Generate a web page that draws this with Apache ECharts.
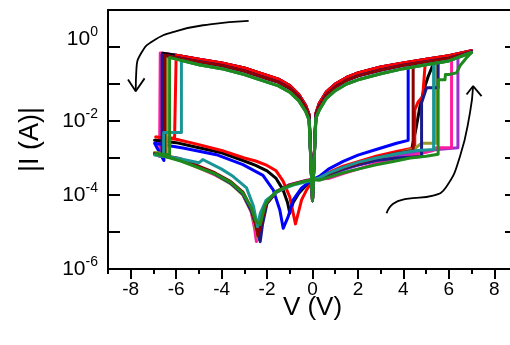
<!DOCTYPE html>
<html>
<head>
<meta charset="utf-8">
<script src="https://cdn.jsdelivr.net/npm/echarts@6/dist/echarts.min.js"></script>
<style>
html,body{margin:0;padding:0;background:#fff;overflow:hidden;width:510px;height:345px;}
#chart{width:517px;height:345px;}
</style>
</head>
<body>
<div id="chart"></div>
<script>
// ---- axis ticks ----
const xMajorTicks = [-8, -6, -4, -2, 0, 2, 4, 6, 8];
const xMinorTicks = [-9, -7, -5, -3, -1, 1, 3, 5, 7, 9];
const yTicks = [1e-6, 1e-5, 1e-4, 1e-3, 1e-2, 1e-1, 1, 10];
const yLabelTicks = [1e-6, 1e-4, 1e-2, 1];

// ---- ON-state branches, [V, |I| (A)] ----
const hiPosU = [[7,0.79],[6,0.58],[5,0.47],[4,0.37],[3,0.29],[2,0.20],[1.5,0.15],[1,0.10],[0.6,0.060],[0.3,0.030],[0.15,0.016]];
const hiPosM = [[7,0.74],[6,0.50],[5,0.40],[4,0.32],[3,0.24],[2,0.166],[1.5,0.126],[1,0.083],[0.6,0.050],[0.3,0.025],[0.15,0.014]];
const hiPosL = [[7,0.71],[6,0.42],[5,0.33],[4,0.26],[3,0.19],[2,0.13],[1.5,0.10],[1,0.066],[0.6,0.040],[0.3,0.020],[0.15,0.012]];
const hiNegU = [[-0.15,0.015],[-0.3,0.026],[-0.6,0.052],[-1,0.091],[-1.5,0.135],[-2,0.17],[-3,0.27],[-4,0.37],[-5,0.47],[-6,0.60],[-6.7,0.69]];
const hiNegM = [[-0.15,0.0126],[-0.3,0.022],[-0.6,0.045],[-1,0.076],[-1.5,0.112],[-2,0.141],[-3,0.224],[-4,0.316],[-5,0.40],[-6,0.52],[-6.7,0.63]];
const hiNegL = [[-0.15,0.0105],[-0.3,0.018],[-0.6,0.035],[-1,0.060],[-1.5,0.089],[-2,0.112],[-3,0.18],[-4,0.26],[-5,0.33],[-6,0.47],[-6.7,0.60]];
const spike = [0, 7e-5];

// ---- OFF-state positive sweeps up to SET, per cycle ----
const setBlack   = [[0,2.6e-4],[0.3,2.9e-4],[0.7,3.8e-4],[1.35,5.6e-4],[2,7.6e-4],[2.8,1.05e-3],[3.7,1.4e-3],[4.36,1.66e-3],[4.55,6.0e-3],[4.73,0.025],[4.9,0.07],[5.09,0.16],[5.31,0.34],[5.45,0.45]];
const setRed     = [[0,2.6e-4],[0.3,3.0e-4],[0.7,4.0e-4],[1.35,6.0e-4],[2,7.9e-4],[2.8,1.12e-3],[3.7,1.5e-3],[4.5,1.9e-3],[4.5,0.02],[4.64,0.032],[4.85,0.046],[4.95,0.30],[5.0,0.47]];
const setBlue    = [[0,2.6e-4],[0.3,3.2e-4],[0.7,5.0e-4],[1.35,8.1e-4],[2,1.2e-3],[2.8,1.7e-3],[3.7,2.5e-3],[4.21,3.0e-3],[4.21,0.33]];
const setMagenta = [[0,2.6e-4],[0.3,2.7e-4],[0.7,2.8e-4],[1.35,3.8e-4],[2,5.0e-4],[2.8,7.1e-4],[3.7,9.5e-4],[4.5,1.2e-3],[5.3,1.6e-3],[5.45,1.9e-3],[6.12,1.9e-3],[6.12,0.60]];
const setOlive   = [[0,2.6e-4],[0.3,2.8e-4],[0.7,3.6e-4],[1.35,5.2e-4],[2,7.0e-4],[2.8,9.5e-4],[3.7,1.3e-3],[4.5,1.8e-3],[4.8,2.5e-3],[5.46,2.5e-3],[5.46,0.37]];
const setNavy    = [[0,2.6e-4],[0.3,2.9e-4],[0.7,3.5e-4],[1.35,5.0e-4],[2,6.6e-4],[2.8,8.5e-4],[3.7,1.0e-3],[4.8,1.1e-3],[4.8,0.031],[5.02,0.079],[5.53,0.079],[5.53,0.45]];
const setWine    = [[0,2.6e-4],[0.3,2.9e-4],[0.7,3.7e-4],[1.35,5.4e-4],[2,7.2e-4],[2.8,1.0e-3],[3.7,1.35e-3],[4.43,1.6e-3],[4.43,0.35]];
const setPurple  = [[0,2.6e-4],[0.3,2.8e-4],[0.7,3.4e-4],[1.35,4.8e-4],[2,6.3e-4],[2.8,8.5e-4],[3.7,1.1e-3],[4.6,1.4e-3],[5.5,1.7e-3],[6.4,1.9e-3],[6.4,0.66]];
const setTeal    = [[0,2.6e-4],[0.3,2.9e-4],[0.7,3.9e-4],[1.35,5.6e-4],[2,7.6e-4],[2.8,1.0e-3],[3.7,1.3e-3],[4.6,1.6e-3],[5.33,1.7e-3],[5.33,0.36]];
const setGreen   = [[0,2.6e-4],[0.3,2.5e-4],[0.7,3.0e-4],[1.35,4.0e-4],[2,5.0e-4],[2.8,6.6e-4],[3.5,7.9e-4],[4.3,1.0e-3],[5.0,1.12e-3],[5.53,1.26e-3],[5.53,0.13],[5.83,0.13],[5.85,0.18],[6.0,0.18],[6.34,0.20],[6.49,0.31],[6.78,0.51],[7,0.71]];

// ---- RESET and OFF-state negative return sweeps, per cycle ----
const resetBlack   = [[-6.6,0.68],[-6.6,2.9e-3],[-6.95,3.0e-3],[-6,2.6e-3],[-5,1.9e-3],[-4,1.38e-3],[-3,8.3e-4],[-2.5,6.3e-4],[-2,4.5e-4],[-1.6,2.8e-4],[-1.3,1.4e-4],[-1.1,6.3e-5],[-1.0,3.2e-5],[-0.85,6.3e-5],[-0.6,1.12e-4],[-0.3,1.78e-4],[0,2.4e-4]];
const resetRed     = [[-6.07,0.60],[-6.07,3.4e-3],[-6.9,3.7e-3],[-6,3.2e-3],[-5,2.3e-3],[-4,1.6e-3],[-3,1.0e-3],[-2.5,8.3e-4],[-2,6.3e-4],[-1.6,4.5e-4],[-1.3,2.4e-4],[-1.0,8.9e-5],[-0.85,3.2e-5],[-0.75,1.66e-5],[-0.63,3.2e-5],[-0.48,7.4e-5],[-0.26,1.38e-4],[0,2.4e-4]];
const resetBlue    = [[-6.54,0.60],[-6.54,8.5e-4],[-6.95,2.5e-3],[-5.7,1.86e-3],[-4.23,1.23e-3],[-3.06,6.6e-4],[-2.18,3.4e-4],[-1.73,1.38e-4],[-1.44,4.0e-5],[-1.29,1.26e-5],[-1.07,2.6e-5],[-0.85,7.4e-5],[-0.48,1.55e-4],[-0.12,2.3e-4],[0,2.5e-4]];
const resetMagenta = [[-6.73,0.69],[-6.73,1.1e-3],[-6.95,1.3e-3],[-5.8,8.9e-4],[-4.3,3.5e-4],[-3.6,2.1e-4],[-3.06,1.0e-4],[-2.7,3.5e-5],[-2.55,1.26e-5],[-2.47,5.5e-6],[-2.3,1.8e-5],[-2.03,6.0e-5],[-1.59,1.26e-4],[-1.0,1.9e-4],[-0.26,2.5e-4],[0,2.6e-4]];
const resetOlive   = [[-6.43,0.55],[-6.43,1.3e-3],[-6.95,1.4e-3],[-5.8,8.5e-4],[-4.3,3.6e-4],[-3.6,2.0e-4],[-3.06,1.0e-4],[-2.7,3.8e-5],[-2.5,1.3e-5],[-2.38,6.3e-6],[-2.25,1.6e-5],[-2.03,5.6e-5],[-1.59,1.2e-4],[-1.0,1.8e-4],[-0.3,2.4e-4],[0,2.6e-4]];
const resetNavy    = [[-6.62,0.62],[-6.62,1.2e-3],[-6.95,1.3e-3],[-5.8,9.0e-4],[-4.3,3.7e-4],[-3.6,2.1e-4],[-3.06,1.05e-4],[-2.7,3.8e-5],[-2.45,1.3e-5],[-2.3,5.5e-6],[-2.2,1.6e-5],[-2.0,6.0e-5],[-1.59,1.2e-4],[-1.0,1.85e-4],[-0.3,2.4e-4],[0,2.6e-4]];
const resetWine    = [[-6.5,0.60],[-6.5,1.2e-3],[-6.95,1.3e-3],[-5.8,9.5e-4],[-4.3,4.0e-4],[-3.6,2.3e-4],[-3.06,1.2e-4],[-2.7,4.5e-5],[-2.5,1.6e-5],[-2.4,8.0e-6],[-2.25,1.8e-5],[-2.03,6.0e-5],[-1.59,1.2e-4],[-1.0,1.85e-4],[-0.3,2.4e-4],[0,2.6e-4]];
const resetPurple  = [[-6.6,0.68],[-6.6,1.2e-3],[-6.95,1.3e-3],[-5.8,9.0e-4],[-4.3,3.8e-4],[-3.6,2.2e-4],[-3.06,1.1e-4],[-2.7,4.0e-5],[-2.5,1.4e-5],[-2.42,7.0e-6],[-2.28,1.8e-5],[-2.03,6.0e-5],[-1.59,1.25e-4],[-1.0,1.9e-4],[-0.3,2.45e-4],[0,2.6e-4]];
const resetTeal    = [[-5.77,0.43],[-5.77,4.9e-3],[-6.55,4.9e-3],[-6.55,1.1e-3],[-6.95,1.2e-3],[-6,1.0e-3],[-5.0,7.4e-4],[-4.83,9.1e-4],[-4.0,5.0e-4],[-3.5,3.2e-4],[-2.9,1.55e-4],[-2.6,5.0e-5],[-2.42,1.4e-5],[-2.3,3.2e-5],[-2.05,7.1e-5],[-1.5,1.3e-4],[-0.8,1.9e-4],[0,2.5e-4]];
const resetGreen   = [[-6.29,0.52],[-6.29,1.23e-3],[-6.9,1.3e-3],[-5.8,8.3e-4],[-4.3,3.8e-4],[-3.6,2.2e-4],[-3.06,1.12e-4],[-2.7,4.5e-5],[-2.5,2.0e-5],[-2.3,1.6e-5],[-2.1,5.0e-5],[-2.0,6.6e-5],[-1.6,1.26e-4],[-1.0,1.8e-4],[-0.3,2.4e-4],[0,2.6e-4]];

// ---- annotation arrows (data coordinates) ----
const arrowResetPath = [[-2.81,5.1],[-4.52,4.1],[-5.99,2.7],[-7.02,1.46],[-7.53,0.70],[-7.75,0.25],[-7.78,0.064]];
const arrowResetHead = [[-8.12,0.133],[-7.78,0.064],[-7.39,0.142]];
const arrowSetPath = [[3.26,3.2e-5],[3.55,5.8e-5],[4.14,7.8e-5],[5.31,9.6e-5],[5.90,1.7e-4],[6.49,1.1e-3],[6.93,0.0166],[7.07,0.088]];
const arrowSetHead = [[6.78,0.052],[7.07,0.088],[7.44,0.047]];

const cycles = [
  {color:'#9b30d0', set:setPurple,  hiPos:hiPosU, hiNeg:hiNegU, reset:resetPurple},
  {color:'#ff1ea0', set:setMagenta, hiPos:hiPosU, hiNeg:hiNegU, reset:resetMagenta},
  {color:'#000000', set:setBlack,   hiPos:hiPosU, hiNeg:hiNegU, reset:resetBlack},
  {color:'#ff0000', set:setRed,     hiPos:hiPosU, hiNeg:hiNegU, reset:resetRed},
  {color:'#0000ff', set:setBlue,    hiPos:hiPosM, hiNeg:hiNegM, reset:resetBlue},
  {color:'#99992a', set:setOlive,   hiPos:hiPosL, hiNeg:hiNegL, reset:resetOlive},
  {color:'#1a1a8a', set:setNavy,    hiPos:hiPosM, hiNeg:hiNegM, reset:resetNavy},
  {color:'#8b0000', set:setWine,    hiPos:hiPosM, hiNeg:hiNegM, reset:resetWine},
  {color:'#1a9595', set:setTeal,    hiPos:hiPosL, hiNeg:hiNegL, reset:resetTeal},
  {color:'#1e8a1e', set:setGreen,   hiPos:hiPosL, hiNeg:hiNegL, reset:resetGreen}
];

function buildCycle(c) {
  const setEnd = c.set[c.set.length - 1][0];
  const resetV = c.reset[0][0];
  const up = c.hiPos.filter(p => p[0] > setEnd).reverse();
  const neg = c.hiNeg.filter(p => p[0] > resetV);
  return c.set.concat(up, c.hiPos, [spike], neg, c.reset);
}

const FONT = '"Liberation Sans", Arial, sans-serif';

const series = cycles.map(c => ({
  type: 'line', data: buildCycle(c), showSymbol: false, silent: true,
  xAxisIndex: 0, yAxisIndex: 0,
  lineStyle: {color: c.color, width: 3, join: 'round'}, itemStyle: {color: c.color}
}));
[[arrowResetPath, true], [arrowResetHead, false], [arrowSetPath, true], [arrowSetHead, false]].forEach(([d, sm]) => {
  series.push({type: 'line', data: d, smooth: sm, showSymbol: false, silent: true,
    xAxisIndex: 0, yAxisIndex: 0, lineStyle: {color: '#000', width: 1.8}, itemStyle: {color: '#000'}});
});

const chart = echarts.init(document.getElementById('chart'), null, {renderer: 'canvas'});
chart.setOption({
  animation: false,
  backgroundColor: '#fff',
  grid: {left: 108, top: 10, width: 409, height: 259, containLabel: false},
  xAxis: [
    {type: 'value', min: -9, max: 9, position: 'bottom',
     axisLine: {show: true, onZero: false, lineStyle: {color: '#000', width: 2}},
     axisTick: {show: true, inside: false, length: 10, customValues: xMajorTicks, lineStyle: {color: '#000', width: 2}},
     axisLabel: {show: true, customValues: xMajorTicks, margin: 11, fontSize: 19, color: '#000', fontFamily: FONT},
     splitLine: {show: false},
     name: 'V (V)', nameLocation: 'middle', nameGap: 26, nameMoveOverlap: false,
     nameTextStyle: {fontSize: 26, color: '#000', fontFamily: FONT}},
    {type: 'value', min: -9, max: 9, position: 'bottom',
     axisLine: {show: false},
     axisTick: {show: true, inside: false, length: 5, customValues: xMinorTicks, lineStyle: {color: '#000', width: 2}},
     axisLabel: {show: false}, splitLine: {show: false}},
    {type: 'value', min: -9, max: 9, position: 'top',
     axisLine: {show: true, onZero: false, lineStyle: {color: '#000', width: 2}},
     axisTick: {show: false}, axisLabel: {show: false}, splitLine: {show: false}}
  ],
  yAxis: [
    {type: 'log', logBase: 10, min: 1e-6, max: 10, position: 'left',
     axisLine: {show: true, onZero: false, lineStyle: {color: '#000', width: 2}},
     axisTick: {show: true, inside: true, length: 12, customValues: yTicks, lineStyle: {color: '#000', width: 2}},
     axisLabel: {show: true, customValues: yLabelTicks, margin: 10, color: '#000', fontFamily: FONT,
       formatter: function (v) {
         const e = Math.round(Math.log10(v));
         if (e === 0) return '{b|10}{s|0}\n{e| }';
         return '{b|10}{s|' + e + '}';
       },
       rich: {
         b: {fontSize: 21, lineHeight: 21, fontFamily: FONT, color: '#000'},
         s: {fontSize: 14, lineHeight: 14, padding: [0, 0, 13, 0], fontFamily: FONT, color: '#000'},
         e: {fontSize: 10, lineHeight: 16}
       }},
     splitLine: {show: false},
     name: '|I (A)|', nameLocation: 'middle', nameGap: 64, nameRotate: 90, nameMoveOverlap: false,
     nameTextStyle: {fontSize: 27, color: '#000', fontFamily: FONT}},
    {type: 'log', logBase: 10, min: 1e-6, max: 10, position: 'right',
     axisLine: {show: true, onZero: false, lineStyle: {color: '#000', width: 2}},
     axisTick: {show: true, inside: true, length: 12, customValues: yTicks, lineStyle: {color: '#000', width: 2}},
     axisLabel: {show: false}, splitLine: {show: false}}
  ],
  series: series
});
</script>
</body>
</html>
